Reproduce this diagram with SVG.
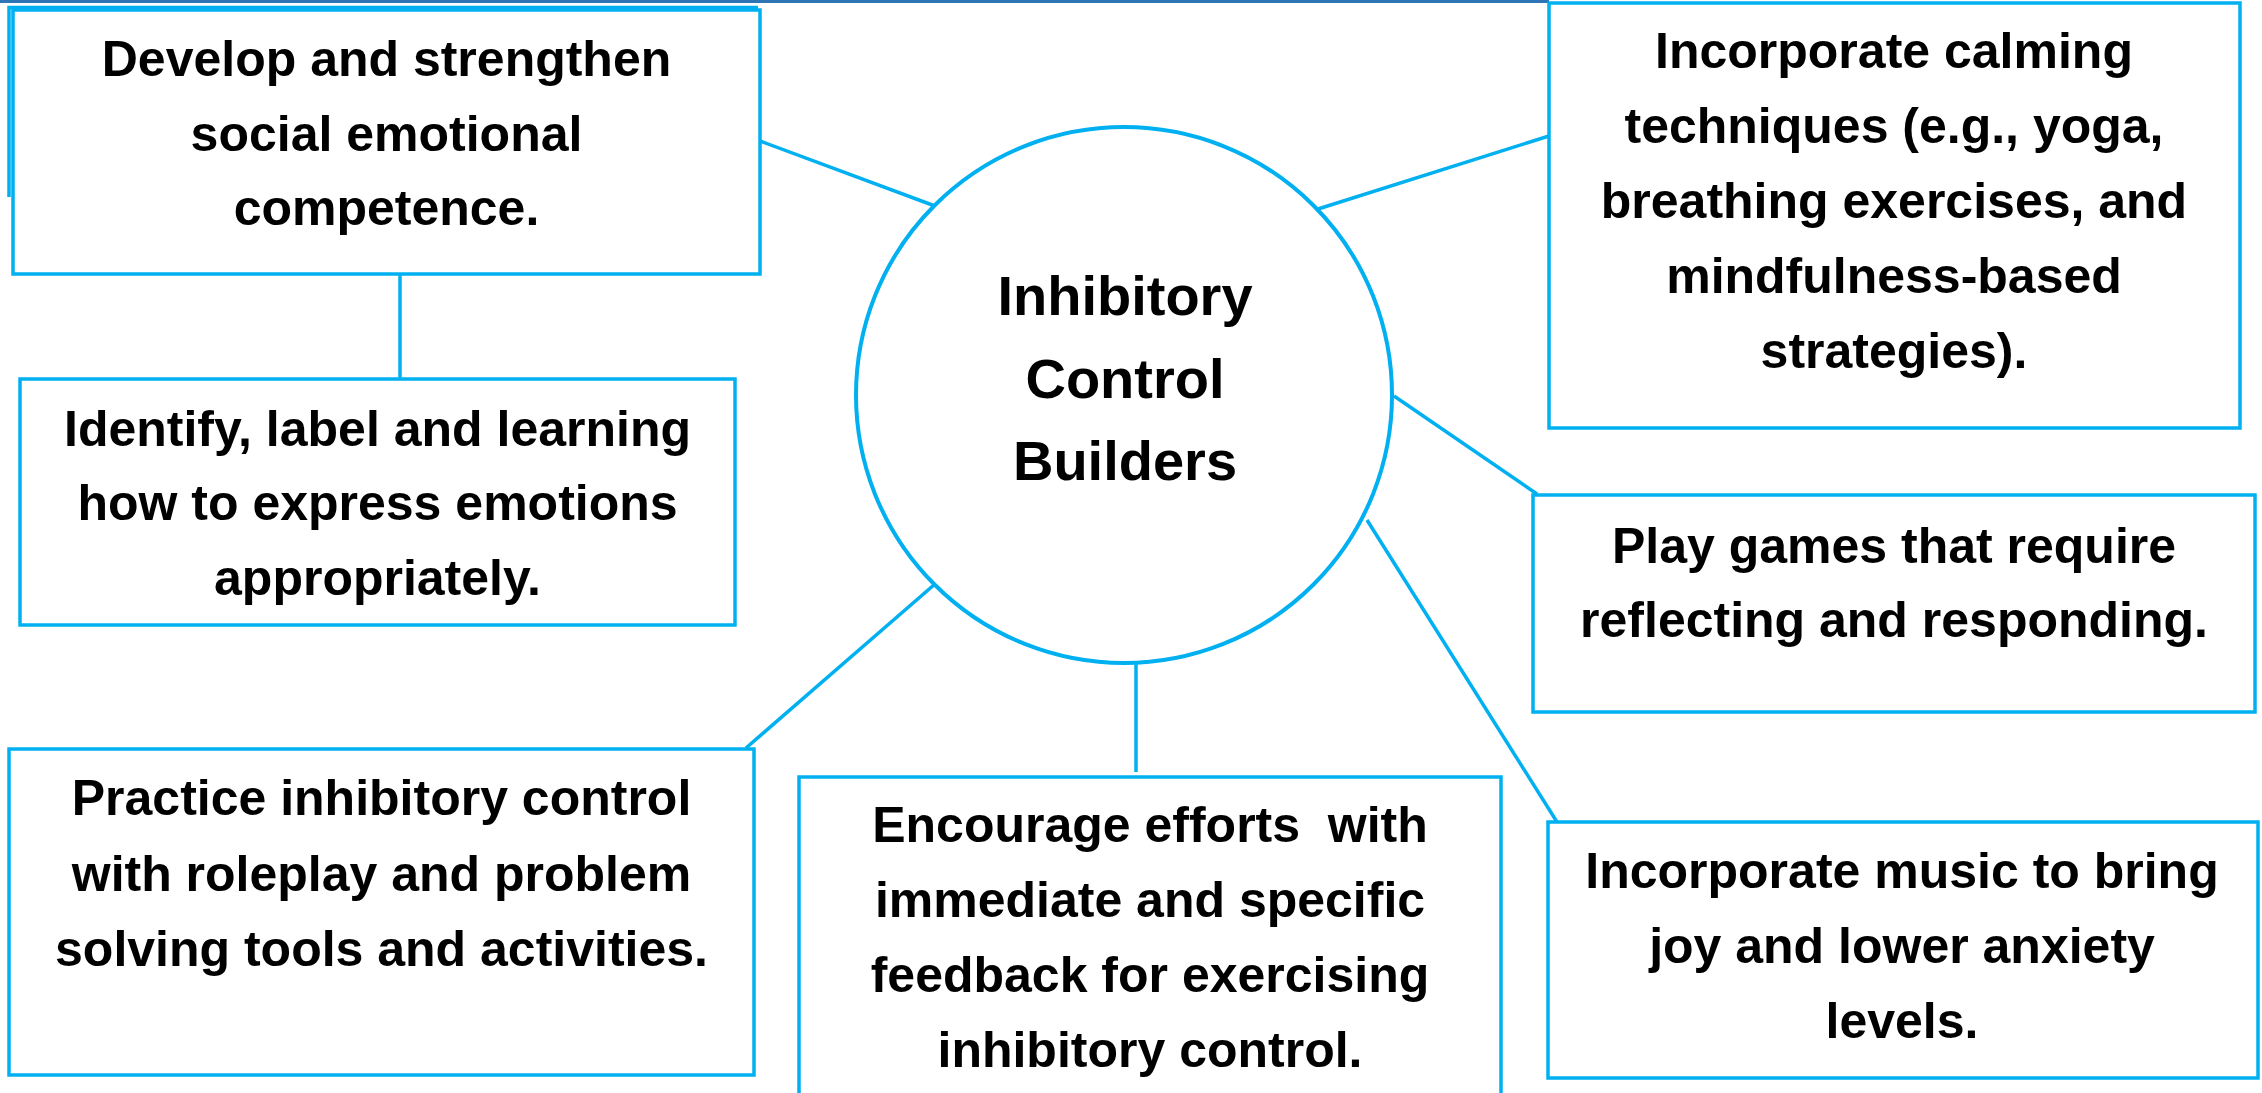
<svg xmlns="http://www.w3.org/2000/svg" width="2262" height="1093" viewBox="0 0 2262 1093">
<style>
.box{fill:#ffffff;stroke:#00B0F0;stroke-width:3.5}
.con{stroke:#00B0F0;stroke-width:3.5;fill:none}
.t{font-family:"Liberation Sans",Arial,sans-serif;font-weight:bold;font-size:50px;fill:#000000;text-anchor:middle}
.hub{font-size:56px}
</style>
<rect x="0" y="0" width="2262" height="1093" fill="#ffffff"/>
<line x1="0" y1="1.5" x2="1549" y2="1.5" stroke="#2E75B6" stroke-width="3"/>
<g id="connectors">
<line class="con" x1="760" y1="141" x2="935" y2="206"/>
<line class="con" x1="400" y1="274" x2="400" y2="383"/>
<line class="con" x1="1318" y1="209" x2="1549" y2="136"/>
<line class="con" x1="1394" y1="396" x2="1537" y2="494"/>
<line class="con" x1="1367" y1="520" x2="1557" y2="822"/>
<line class="con" x1="1136" y1="663" x2="1136" y2="772"/>
<line class="con" x1="935" y1="584" x2="746" y2="748"/>
</g>
<g id="hub">
<circle cx="1124" cy="395" r="268" fill="#ffffff" stroke="#00B0F0" stroke-width="4"/>
<text class="t hub" x="1125" y="315">Inhibitory</text>
<text class="t hub" x="1125" y="398">Control</text>
<text class="t hub" x="1125" y="480">Builders</text>
</g>
<g id="node-develop">
<polyline class="con" points="9,197 9,7.5 758,7.5"/>
<rect class="box" x="13" y="10" width="747" height="264"/>
<text class="t" x="386.5" y="76">Develop and strengthen</text>
<text class="t" x="386.5" y="150.5">social emotional</text>
<text class="t" x="386.5" y="225">competence.</text>
</g>
<g id="node-identify">
<rect class="box" x="20" y="379" width="715" height="246"/>
<text class="t" x="377.5" y="445.5">Identify, label and learning</text>
<text class="t" x="377.5" y="520">how to express emotions</text>
<text class="t" x="377.5" y="595">appropriately.</text>
</g>
<g id="node-calming">
<rect class="box" x="1549" y="3" width="691" height="425"/>
<text class="t" x="1894" y="68">Incorporate calming</text>
<text class="t" x="1894" y="143">techniques (e.g., yoga,</text>
<text class="t" x="1894" y="218">breathing exercises, and</text>
<text class="t" x="1894" y="293">mindfulness-based</text>
<text class="t" x="1894" y="368">strategies).</text>
</g>
<g id="node-games">
<rect class="box" x="1533" y="495" width="722" height="217"/>
<text class="t" x="1894" y="563">Play games that require</text>
<text class="t" x="1894" y="637">reflecting and responding.</text>
</g>
<g id="node-music">
<rect class="box" x="1548" y="822" width="710" height="256"/>
<text class="t" x="1902" y="888">Incorporate music to bring</text>
<text class="t" x="1902" y="963">joy and lower anxiety</text>
<text class="t" x="1902" y="1038">levels.</text>
</g>
<g id="node-encourage">
<rect class="box" x="799" y="777" width="702" height="340"/>
<text class="t" x="1150" y="842">Encourage efforts&#160; with</text>
<text class="t" x="1150" y="917">immediate and specific</text>
<text class="t" x="1150" y="992">feedback for exercising</text>
<text class="t" x="1150" y="1067">inhibitory control.</text>
</g>
<g id="node-practice">
<rect class="box" x="9" y="749" width="745" height="326"/>
<text class="t" x="381.5" y="815">Practice inhibitory control</text>
<text class="t" x="381.5" y="890.5">with roleplay and problem</text>
<text class="t" x="381.5" y="965.5">solving tools and activities.</text>
</g>
</svg>
